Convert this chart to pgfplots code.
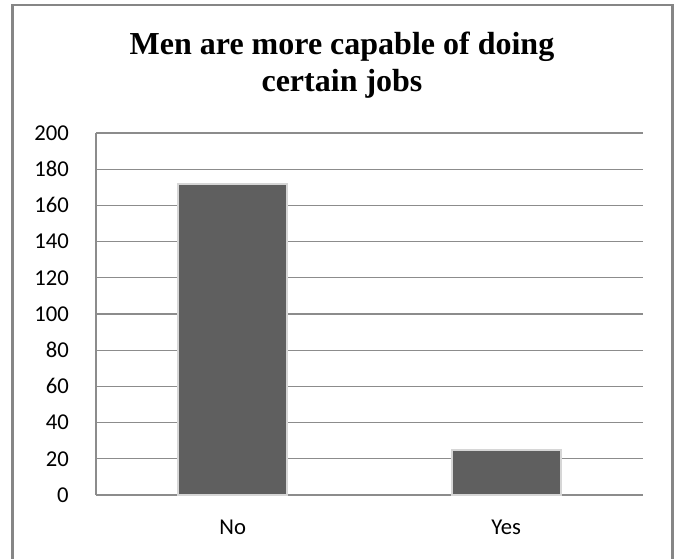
\documentclass[border=0pt]{standalone}
\usepackage{fontspec}
\setmainfont{Liberation Serif}
\newfontfamily\calibri{Carlito}
\usepackage{pgfplots}
\pgfplotsset{compat=1.18}
\definecolor{bargray}{HTML}{5F5F5F}
\definecolor{gridgray}{HTML}{8C8C8C}
\definecolor{framegray}{HTML}{868686}
\definecolor{baredge}{HTML}{D6D6D6}
\begin{document}
\begin{tikzpicture}
\useasboundingbox (0,0) rectangle (510pt,418.5pt);
\draw[framegray, line width=1.8pt] (9.4pt,-5pt) -- (9.4pt,414.75pt) -- (504.4pt,414.75pt) -- (504.4pt,-5pt);
\node[font=\bfseries\fontsize{24}{28}\selectfont, anchor=base, inner sep=0pt] at (256.5pt,377.25pt) {Men are more capable of doing};
\node[font=\bfseries\fontsize{24}{28}\selectfont, anchor=base, inner sep=0pt] at (256.5pt,349.7pt) {certain jobs};
\begin{axis}[
  at={(72pt,47.25pt)}, anchor=south west,
  scale only axis, width=410.25pt, height=271.5pt,
  xmin=-0.5, xmax=1.5, ymin=0, ymax=200,
  enlargelimits=false,
  xtick={0,1}, xticklabels={No,Yes},
  ytick={0,20,...,200},
  ymajorgrids,
  grid style={gridgray, line width=1pt},
  axis x line=bottom, axis y line=left,
  axis line style={gridgray, line width=1pt, -},
  major tick length=0pt,
  tick style={draw=none},
  /pgf/number format/assume math mode=true,
  yticklabel style={font=\calibri\fontsize{17}{20}\selectfont, inner sep=0pt, anchor=east, xshift=-20.25pt},
  xticklabel style={font=\calibri\fontsize{17}{20}\selectfont, inner sep=0pt, anchor=north, yshift=-18.75pt},
  clip=false,
]
\addplot[ybar, bar width=0.4, fill=bargray, draw=baredge, line width=1.5pt] coordinates {(0,172) (1,25)};
\end{axis}
\end{tikzpicture}
\end{document}
